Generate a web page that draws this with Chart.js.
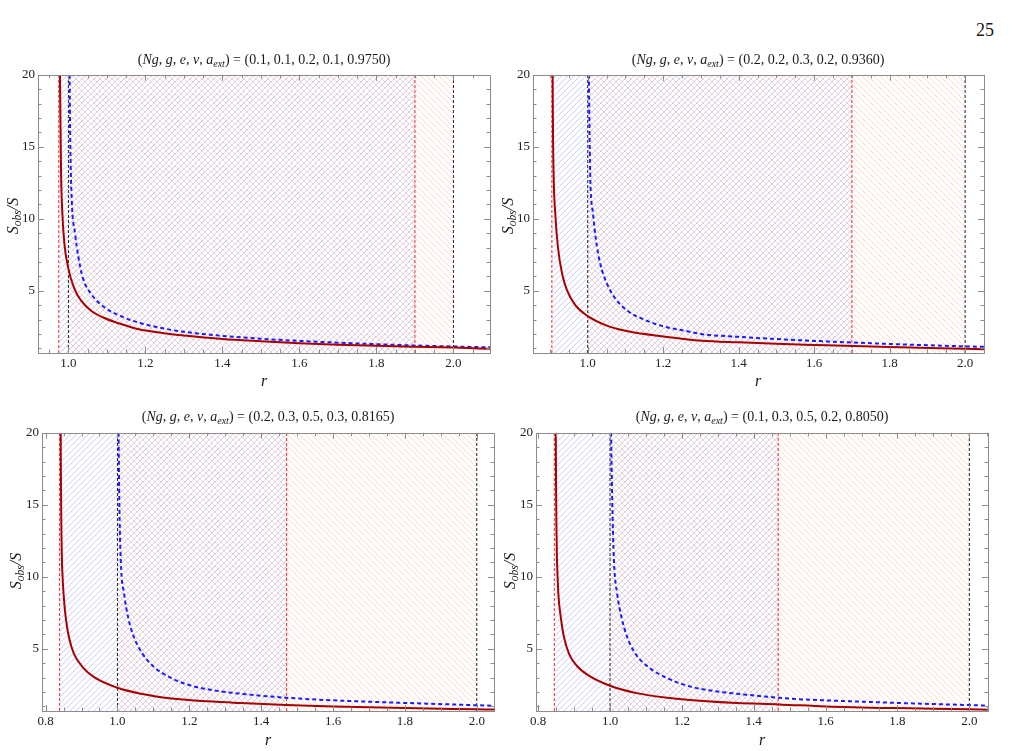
<!DOCTYPE html>
<html lang="en">
<head>
<meta charset="UTF-8">
<title>Sobs/S versus r</title>
<script src="https://cdn.jsdelivr.net/npm/chart.js"></script>
<style>
  body { margin:0; background:#fff; width:1012px; height:751px; position:relative; overflow:hidden;
         font-family:"Liberation Serif", "DejaVu Serif", serif; color:#1a1a1a; }
  canvas { position:absolute; }
  .txt { position:absolute; transform:translate(-50%,-50%); white-space:nowrap; line-height:1; }
  .ttl { font-size:14px; }
  .ttl sub, .ylab sub { font-size:0.72em; vertical-align:-0.3em; line-height:0; }
  .ylab { font-size:16px; font-style:italic; transform:translate(-50%,-50%) rotate(-90deg); }
  .xlab { font-size:16px; font-style:italic; }
  .page { font-size:18px; }
</style>
</head>
<body>
<div class="txt page" style="left:985px;top:30px">25</div>

<canvas id="c1" width="502" height="319" style="left:-2px;top:64px"></canvas>
<canvas id="c2" width="501" height="319" style="left:493px;top:64px"></canvas>
<canvas id="c3" width="502" height="319" style="left:2px;top:422px"></canvas>
<canvas id="c4" width="502" height="319" style="left:496px;top:422px"></canvas>

<div class="txt ttl" style="left:264px;top:60px">(<i>Ng</i>, <i>g</i>, <i>e</i>, <i>v</i>, <i>a</i><sub><i>ext</i></sub>) = (0.1, 0.1, 0.2, 0.1, 0.9750)</div>
<div class="txt ttl" style="left:758px;top:60px">(<i>Ng</i>, <i>g</i>, <i>e</i>, <i>v</i>, <i>a</i><sub><i>ext</i></sub>) = (0.2, 0.2, 0.3, 0.2, 0.9360)</div>
<div class="txt ttl" style="left:268px;top:417px">(<i>Ng</i>, <i>g</i>, <i>e</i>, <i>v</i>, <i>a</i><sub><i>ext</i></sub>) = (0.2, 0.3, 0.5, 0.3, 0.8165)</div>
<div class="txt ttl" style="left:762px;top:417px">(<i>Ng</i>, <i>g</i>, <i>e</i>, <i>v</i>, <i>a</i><sub><i>ext</i></sub>) = (0.1, 0.3, 0.5, 0.2, 0.8050)</div>

<div class="txt ylab" style="left:13px;top:216px">S<sub>obs</sub>/S</div>
<div class="txt ylab" style="left:508px;top:216px">S<sub>obs</sub>/S</div>
<div class="txt ylab" style="left:16px;top:571px">S<sub>obs</sub>/S</div>
<div class="txt ylab" style="left:510px;top:571px">S<sub>obs</sub>/S</div>

<div class="txt xlab" style="left:264px;top:381px">r</div>
<div class="txt xlab" style="left:758px;top:381px">r</div>
<div class="txt xlab" style="left:268px;top:740px">r</div>
<div class="txt xlab" style="left:762px;top:740px">r</div>

<script>
// axis ticks
const yTicks = [5, 10, 15, 20];
const xTicksTop = [1.0, 1.2, 1.4, 1.6, 1.8, 2.0];
const xTicksBottom = [0.8, 1.0, 1.2, 1.4, 1.6, 1.8, 2.0];

// vertical marker positions (red dashed pair, black dashed pair)
const redLeft = [0.975, 0.905, 0.839, 0.845];
const redRight = [1.9, 1.7, 1.471, 1.468];
const blackLines = [1.0, 2.0];

// panel 1: (0.1, 0.1, 0.2, 0.1, 0.9750)
const r1Red  = [0.978, 0.981, 0.984, 0.9896, 1.0, 1.0156, 1.033, 1.059, 1.0935, 1.137, 1.18, 1.254, 1.3, 1.4, 1.5, 1.6, 1.7, 1.8, 1.9, 2.0, 2.1];
const s1Red  = [20, 13.1, 10.5, 8.26, 6.52, 5.13, 4.32, 3.62, 3.11, 2.69, 2.35, 2.04, 1.9, 1.66, 1.5, 1.36, 1.26, 1.18, 1.12, 1.06, 0.97];
const r1Blue = [1.003, 1.005, 1.0086, 1.0173, 1.026, 1.037, 1.059, 1.0935, 1.137, 1.18, 1.254, 1.3, 1.4, 1.5, 1.6, 1.7, 1.8, 1.9, 2.0, 2.1];
const s1Blue = [20, 15, 11.3, 8.96, 7.33, 5.94, 4.78, 3.85, 3.23, 2.81, 2.35, 2.15, 1.87, 1.67, 1.52, 1.4, 1.29, 1.2, 1.13, 1.07];

// panel 2: (0.2, 0.2, 0.3, 0.2, 0.9360)
const r2Red  = [0.907, 0.908, 0.910, 0.914, 0.921, 0.932, 0.945, 0.967, 1.0, 1.047, 1.1, 1.205, 1.303, 1.4, 1.5, 1.6, 1.8, 2.0, 2.05];
const s2Red  = [20, 16, 12.66, 10.35, 8.04, 6.2, 5.04, 4.0, 3.24, 2.62, 2.22, 1.81, 1.53, 1.42, 1.32, 1.24, 1.09, 0.97, 0.94];
const r2Blue = [1.003, 1.005, 1.007, 1.014, 1.022, 1.033, 1.051, 1.073, 1.109, 1.153, 1.205, 1.258, 1.303, 1.4, 1.5, 1.6, 1.7, 1.8, 1.9, 2.0, 2.05];
const s2Blue = [20, 15.5, 12.66, 10.35, 8.5, 6.89, 5.5, 4.46, 3.54, 2.96, 2.5, 2.22, 1.99, 1.8, 1.65, 1.52, 1.41, 1.31, 1.22, 1.14, 1.11];

// panel 3: (0.2, 0.3, 0.5, 0.3, 0.8165)
const r3Red  = [0.842, 0.8428, 0.8438, 0.8452, 0.8475, 0.850, 0.856, 0.865, 0.879, 0.903, 0.935, 1.0, 1.065, 1.158, 1.25, 1.343, 1.47, 1.6, 1.8, 2.0, 2.05];
const s3Red  = [20, 16.5, 13.6, 11.4, 9.9, 8.81, 7.19, 5.8, 4.65, 3.73, 3.03, 2.29, 1.88, 1.53, 1.35, 1.23, 1.1, 0.99, 0.88, 0.8, 0.78];
const r3Blue = [1.003, 1.005, 1.0093, 1.0186, 1.0297, 1.046, 1.07, 1.102, 1.148, 1.204, 1.269, 1.343, 1.47, 1.6, 1.8, 2.0, 2.05];
const s3Blue = [20, 15.5, 11.1, 8.81, 7.19, 5.8, 4.65, 3.73, 2.99, 2.45, 2.11, 1.88, 1.6, 1.42, 1.24, 1.08, 1.04];

// panel 4: (0.1, 0.3, 0.5, 0.2, 0.8050)
const r4Red  = [0.849, 0.8498, 0.8508, 0.8522, 0.8542, 0.8565, 0.863, 0.872, 0.886, 0.907, 0.94, 1.0, 1.074, 1.167, 1.26, 1.353, 1.47, 1.6, 1.8, 2.0, 2.05];
const s4Red  = [20, 16.5, 13.6, 11.4, 9.9, 8.7, 7.19, 5.8, 4.65, 3.84, 3.15, 2.43, 1.92, 1.58, 1.37, 1.23, 1.14, 1.0, 0.88, 0.8, 0.77];
const r4Blue = [1.003, 1.006, 1.011, 1.02, 1.032, 1.048, 1.071, 1.107, 1.153, 1.213, 1.278, 1.353, 1.47, 1.52, 1.6, 1.8, 2.0, 2.05];
const s4Blue = [20, 15.5, 11.1, 8.81, 7.19, 5.8, 4.65, 3.73, 3.03, 2.45, 2.11, 1.88, 1.6, 1.51, 1.42, 1.24, 1.09, 1.05];

const yMin = 0.68, yMax = 20;
const tickFont = { family: 'Liberation Serif', size: 13 };

// hatched bands (orange "\" between the black markers, blue "/" between the red ones on top)
const hatch = {
  id: 'hatch',
  beforeDatasetsDraw(chart, args, opts) {
    const { ctx, chartArea: a, scales: { x } } = chart;
    const h = a.bottom - a.top;
    ctx.save();
    for (const b of opts.bands) {
      const x0 = Math.max(a.left, x.getPixelForValue(b.from));
      const x1 = Math.min(a.right, x.getPixelForValue(b.to));
      ctx.save();
      ctx.beginPath();
      ctx.rect(x0, a.top, x1 - x0, h);
      ctx.clip();
      ctx.strokeStyle = b.color;
      ctx.lineWidth = 1;
      ctx.beginPath();
      for (let t = a.left - h; t < a.right + b.gap; t += b.gap) {
        if (b.dir > 0) { ctx.moveTo(t, a.bottom); ctx.lineTo(t + h, a.top); }
        else { ctx.moveTo(t, a.top); ctx.lineTo(t + h, a.bottom); }
      }
      ctx.stroke();
      ctx.restore();
    }
    ctx.restore();
  }
};

// Mathematica-style frame with inward ticks on all sides
const frame = {
  id: 'frame',
  afterDraw(chart) {
    const { ctx, chartArea: a, scales: { x, y } } = chart;
    ctx.save();
    ctx.strokeStyle = '#8c8c8c';
    ctx.lineWidth = 1;
    ctx.beginPath();
    for (let k = Math.ceil(x.min * 20); k <= Math.floor(x.max * 20); k++) {
      const px = Math.round(x.getPixelForValue(k / 20)) + 0.5;
      const len = k % 4 === 0 ? 6 : 3.5;
      ctx.moveTo(px, a.bottom); ctx.lineTo(px, a.bottom - len);
      ctx.moveTo(px, a.top); ctx.lineTo(px, a.top + len);
    }
    for (let k = Math.ceil(y.min); k <= Math.floor(y.max); k++) {
      const py = Math.round(y.getPixelForValue(k)) + 0.5;
      const len = k % 5 === 0 ? 6 : 3.5;
      ctx.moveTo(a.left, py); ctx.lineTo(a.left + len, py);
      ctx.moveTo(a.right, py); ctx.lineTo(a.right - len, py);
    }
    ctx.stroke();
    ctx.strokeRect(Math.round(a.left) + 0.5, Math.round(a.top) + 0.5,
                   Math.round(a.right - a.left), Math.round(a.bottom - a.top));
    ctx.restore();
  }
};

function makeChart(id, xMin, xMax, xTicks, rRed, sRed, rBlue, sBlue, left, right) {
  const pts = (xs, ys) => xs.map((v, i) => ({ x: v, y: ys[i] }));
  const vline = (v, color) => ({
    data: [{ x: v, y: yMin }, { x: v, y: yMax }],
    borderColor: color, borderWidth: 1, borderDash: [3, 2], pointRadius: 0, fill: false
  });

  new Chart(document.getElementById(id), {
    type: 'line',
    data: {
      datasets: [
        { data: pts(rRed, sRed), borderColor: '#a80000', borderWidth: 2, pointRadius: 0,
          fill: false, cubicInterpolationMode: 'monotone' },
        { data: pts(rBlue, sBlue), borderColor: '#1a1aff', borderWidth: 2, borderDash: [4, 3],
          pointRadius: 0, fill: false, cubicInterpolationMode: 'monotone' },
        vline(blackLines[0], '#222'),
        vline(blackLines[1], '#222'),
        vline(left, '#f02a2a'),
        vline(right, '#f02a2a')
      ]
    },
    options: {
      responsive: false,
      animation: false,
      events: [],
      layout: { padding: { top: 10, right: 10, left: 0, bottom: 0 } },
      plugins: {
        legend: { display: false },
        tooltip: { enabled: false },
        hatch: { bands: [
          { from: blackLines[0], to: blackLines[1], color: 'rgba(245,155,100,0.38)', dir: -1, gap: 6 },
          { from: left, to: right, color: 'rgba(125,125,240,0.42)', dir: 1, gap: 6 }
        ] }
      },
      scales: {
        x: {
          type: 'linear', min: xMin, max: xMax,
          afterBuildTicks: s => { s.ticks = xTicks.map(v => ({ value: v })); },
          afterFit: s => { s.height = 30; },
          ticks: { callback: v => v.toFixed(1), font: tickFont, color: '#222', padding: 3,
                   maxRotation: 0, autoSkip: false },
          grid: { display: false, drawTicks: false },
          border: { display: false }
        },
        y: {
          min: yMin, max: yMax,
          afterBuildTicks: s => { s.ticks = yTicks.map(v => ({ value: v })); },
          afterFit: s => { s.width = 40; },
          ticks: { callback: v => String(v), font: tickFont, color: '#222', padding: 3 },
          grid: { display: false, drawTicks: false },
          border: { display: false }
        }
      }
    },
    plugins: [hatch, frame]
  });
}

makeChart('c1', 0.921, 2.095, xTicksTop, r1Red, s1Red, r1Blue, s1Blue, redLeft[0], redRight[0]);
makeChart('c2', 0.855, 2.05, xTicksTop, r2Red, s2Red, r2Blue, s2Blue, redLeft[1], redRight[1]);
makeChart('c3', 0.79, 2.048, xTicksBottom, r3Red, s3Red, r3Blue, s3Blue, redLeft[2], redRight[2]);
makeChart('c4', 0.794, 2.052, xTicksBottom, r4Red, s4Red, r4Blue, s4Blue, redLeft[3], redRight[3]);
</script>
</body>
</html>
